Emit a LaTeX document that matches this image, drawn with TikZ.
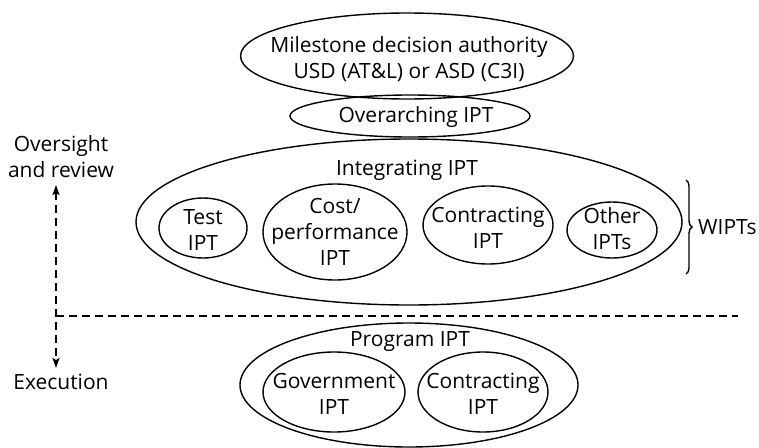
\documentclass[tikz,border=0pt]{standalone}
\usepackage{fontspec}
\setmainfont{Open Sans}
\usetikzlibrary{shapes.geometric,arrows.meta,decorations.pathreplacing}
\begin{document}
\begin{tikzpicture}[x=1pt,y=-1pt,
  oval/.style={draw,ellipse,line width=1.4pt,inner sep=0pt},
  txt/.style={font=\fontsize{21}{26}\selectfont,align=center,inner sep=0pt},
  dashline/.style={line width=2.3pt,dash pattern=on 8pt off 5pt}]
\useasboundingbox (0,0) rectangle (759,447);
% top level
\node[oval,minimum width=333pt,minimum height=86pt] (mda) at (407,56) {};
\node[txt] (mdat) at (409,59) {Milestone decision authority\\USD (AT\&L) or ASD (C3I)};
\node[oval,minimum width=240pt,minimum height=42pt] (oipt) at (410,116) {};
\node[txt] (oiptt) at (416,117) {Overarching IPT};
% integrating IPT with working-level IPTs
\node[oval,minimum width=546pt,minimum height=166pt] (iipt) at (409,222) {};
\node[txt] (iiptt) at (407,170) {Integrating IPT};
\node[oval,minimum width=88pt,minimum height=60pt] (test) at (203,228) {};
\node[txt] (testt) at (203,230) {Test\\IPT};
\node[oval,minimum width=144pt,minimum height=96pt] (cost) at (335,232) {};
\node[txt] (costt) at (335,232) {Cost/\\performance\\IPT};
\node[oval,minimum width=130pt,minimum height=78pt] (contr) at (488,225) {};
\node[txt] (contrt) at (488,228) {Contracting\\IPT};
\node[oval,minimum width=90pt,minimum height=56pt] (other) at (612,230) {};
\node[txt] (othert) at (612,229) {Other\\IPTs};
\coordinate (brtop) at (686,180);
\coordinate (brbot) at (686,274);
\draw[line width=1.4pt,decorate,decoration={brace,amplitude=6pt}] (brtop) -- (brbot);
\node[txt,anchor=west] (wipts) at (698,227) {WIPTs};
% program level
\node[oval,minimum width=338pt,minimum height=124pt] (pipt) at (409,385) {};
\node[txt] (piptt) at (410,342) {Program IPT};
\node[oval,minimum width=142pt,minimum height=80pt] (gov) at (334,392) {};
\node[txt] (govt) at (334,394) {Government\\IPT};
\node[oval,minimum width=130pt,minimum height=80pt] (pcon) at (483,392) {};
\node[txt] (pcont) at (483,394) {Contracting\\IPT};
% oversight / execution axis
\node[txt] (over) at (61,157) {Oversight\\and review};
\node[txt] (exec) at (61,382) {Execution};
\coordinate (axup) at (56,185);
\coordinate (axdn) at (56,368);
\coordinate (axmid) at (56,316);
\coordinate (axend) at (738,316);
\draw[dashline,{Stealth[length=10pt,width=7pt,inset=2pt]}-{Stealth[length=10pt,width=7pt,inset=2pt]}] (axup) -- (axdn);
\draw[dashline] (axmid) -- (axend);
\end{tikzpicture}
\end{document}
